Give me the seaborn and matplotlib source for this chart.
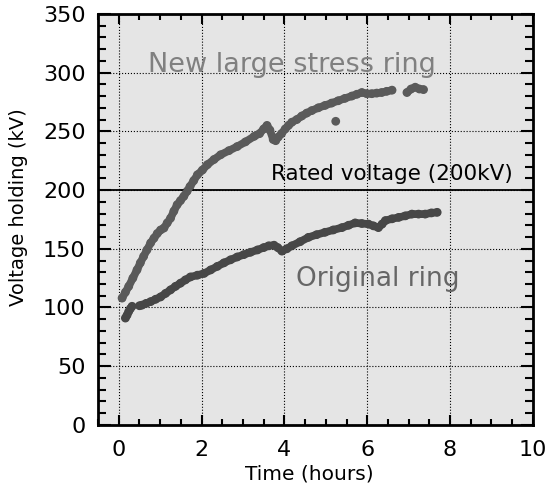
import pandas as pd
import seaborn as sns
import matplotlib.pyplot as plt
from matplotlib.ticker import MultipleLocator

# values
new_t = [0.08, 0.16, 0.24, 0.34, 0.44, 0.52, 0.60, 0.68, 0.77, 0.85, 0.93, 1.01, 1.09,
         1.17, 1.25, 1.33, 1.41, 1.49, 1.57, 1.65, 1.72, 1.81, 1.90, 2.02, 2.14, 2.30,
         2.46, 2.66, 2.86, 3.06, 3.27, 3.40, 3.50, 3.58, 3.65, 3.73, 3.79, 3.85, 3.93,
         4.02, 4.10, 4.18, 4.30, 4.42, 4.54, 4.66, 4.82, 4.98, 5.14, 5.30, 5.46, 5.63,
         5.75, 5.87, 5.99, 6.11, 6.23, 6.35, 6.47, 6.60,
         6.96, 7.06, 7.16, 7.26, 7.36,
         5.24]
new_kv = [108, 113, 118, 125, 132, 138, 143.5, 149, 155, 159, 163, 166, 167.6,
          172, 176, 182, 187.5, 191, 194.6, 199, 203, 208, 213, 217, 221.6, 226,
          230, 233.5, 237, 241, 245.7, 248, 252, 255, 251, 243, 242, 245, 248,
          252, 255, 257.7, 260, 263, 265.5, 267.6, 270, 272, 274, 276, 278, 280,
          281.5, 283, 282, 282, 282.5, 283, 284, 285,
          283, 286, 287.5, 286, 285.5,
          258.5]
new_seg = [0] * 60 + [1] * 5 + [2]

orig_t = [0.16, 0.20, 0.24, 0.28, 0.32,
          0.50, 0.56, 0.66, 0.77, 0.89, 1.01, 1.13, 1.25, 1.37, 1.49, 1.61, 1.73, 1.90,
          2.06, 2.22, 2.38, 2.54, 2.70, 2.86, 3.02, 3.18, 3.35, 3.50, 3.62, 3.75, 3.84,
          3.94, 4.06, 4.18, 4.38, 4.58, 4.78, 4.98, 5.18, 5.39, 5.55, 5.71, 5.87, 6.03,
          6.15, 6.27, 6.36, 6.44, 6.60, 6.76, 6.92, 7.08, 7.24, 7.40, 7.55, 7.69]
orig_kv = [91, 93.5, 96.6, 99, 101,
           101.5, 102, 103.5, 105, 107, 109, 112, 115, 118, 120.7, 123.5, 126, 127.5,
           129, 132, 135, 138, 140.6, 143, 145, 147, 149, 151, 152.5, 153, 151,
           148, 150, 152.5, 156, 159.7, 162, 164, 166, 168, 170, 172, 171.5, 171,
           169.5, 168, 171, 174, 175.5, 176.7, 178, 179.5, 179.5, 179.5, 180.5, 181]
orig_seg = [0] * 5 + [1] * 51

rated_kv = 200
x_ticks = [0, 2, 4, 6, 8, 10]
y_ticks = [0, 50, 100, 150, 200, 250, 300, 350]

df_new = pd.DataFrame({'t': new_t, 'kv': new_kv, 'seg': new_seg})
df_orig = pd.DataFrame({'t': orig_t, 'kv': orig_kv, 'seg': orig_seg})

sns.set_theme(style='ticks')
plt.rcParams['font.family'] = ['DejaVu Sans']
plt.rcParams['text.color'] = 'black'
plt.rcParams['axes.labelcolor'] = 'black'
plt.rcParams['xtick.color'] = 'black'
plt.rcParams['ytick.color'] = 'black'

fig = plt.figure(figsize=(5.51, 4.93), dpi=100)
ax = fig.add_axes([0.178, 0.138, 0.789, 0.834])
ax.set_facecolor('#e5e5e5')
ax.set_axisbelow(True)
ax.grid(True, which='major', color='black', linestyle=':', linewidth=0.8)

c_new = '#5a5a5a'
c_orig = '#474747'

sns.lineplot(data=df_new, x='t', y='kv', units='seg', estimator=None, sort=False,
             color=c_new, lw=5.6, solid_capstyle='round', ax=ax, legend=False)
sns.scatterplot(data=df_new, x='t', y='kv', color=c_new, s=40, edgecolor='none', ax=ax, legend=False)
sns.lineplot(data=df_orig, x='t', y='kv', units='seg', estimator=None, sort=False,
             color=c_orig, lw=5.6, solid_capstyle='round', ax=ax, legend=False)
sns.scatterplot(data=df_orig, x='t', y='kv', color=c_orig, s=40, edgecolor='none', ax=ax, legend=False)

ax.axhline(rated_kv, xmin=0.024, xmax=0.976, color='black', lw=1.3, zorder=1.5)

ax.text(4.19, 300.6, 'New large stress ring', ha='center', va='baseline', fontsize=19.5, color='#808080')
ax.text(6.25, 118.5, 'Original ring', ha='center', va='baseline', fontsize=19, color='#666666')
ax.text(6.59, 208.6, 'Rated voltage (200kV)', ha='center', va='baseline', fontsize=15.5, color='black')

ax.set_xlim(-0.5, 10)
ax.set_ylim(0, 350)
ax.set_xticks(x_ticks)
ax.set_yticks(y_ticks)
ax.xaxis.set_minor_locator(MultipleLocator(0.5))
ax.yaxis.set_minor_locator(MultipleLocator(10))
ax.tick_params(which='both', direction='in', top=True, right=True, width=1.5, color='black',
               labelsize=16, labelcolor='black')
ax.tick_params(axis='x', which='major', length=7, pad=11)
ax.tick_params(axis='x', which='minor', length=4.5)
ax.tick_params(axis='y', which='major', length=9, pad=9)
ax.tick_params(axis='y', which='minor', length=5.5)
for sp in ax.spines.values():
    sp.set_linewidth(2)
    sp.set_color('black')

ax.set_xlabel('Time (hours)', fontsize=14.5)
ax.set_ylabel('Voltage holding (kV)', fontsize=14)
ax.xaxis.set_label_coords(0.487, -0.097)
ax.yaxis.set_label_coords(-0.161, 0.53)

fig.savefig('out.png', dpi=100)
